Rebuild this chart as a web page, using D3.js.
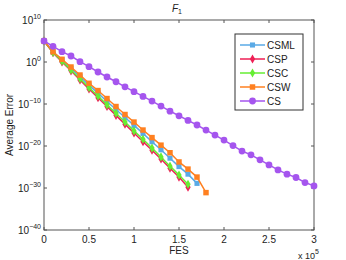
<!DOCTYPE html>
<html>
<head>
<meta charset="UTF-8">
<title>F1 convergence</title>
<script src="https://d3js.org/d3.v7.min.js"></script>
<style>
  body { margin: 0; background: #fff; }
  text { font-family: "Liberation Sans", Arial, sans-serif; }
</style>
</head>
<body>
<svg id="chart"></svg>
<script>
// FES in units of 1e5, error as log10
const fes = d3.range(0, 31).map(i => i / 10);
const csml = [5, 2.4, 0.5, -1.5, -3.5, -5.5, -7.4, -9.4, -11.3, -13.2, -15.1, -17.0, -19.0, -20.9, -22.9, -24.9, -26.7, -28.9];
const csp  = [5, 2.2, 0.0, -2.1, -4.3, -6.4, -8.5, -10.6, -12.7, -14.8, -16.9, -19.0, -21.0, -23.1, -25.3, -27.4, -29.8];
const csc  = [5, 2.3, 0.2, -1.9, -4.0, -6.1, -8.1, -10.2, -12.2, -14.3, -16.4, -18.4, -20.5, -22.6, -24.8, -26.9, -29.1];
const csw  = [5, 2.45, 0.64, -1.19, -3.1, -5.07, -6.8, -8.7, -10.6, -12.5, -14.3, -16.2, -18.0, -19.8, -21.6, -23.8, -25.5, -27.4, -31.1];
const cs   = [5, 3.74, 2.45, 1.43, 0.07, -1.12, -2.38, -3.57, -4.7, -5.9, -7.07, -8.2, -9.3, -10.5, -11.7, -12.8, -13.9, -15.0, -16.2, -17.4, -18.6, -19.9, -21.2, -22.1, -23.3, -24.5, -25.7, -26.7, -27.5, -28.7, -29.5];
const xTicks = [0, 0.5, 1, 1.5, 2, 2.5, 3];
const yTicks = [10, 0, -10, -20, -30, -40];

const series = [
  { name: "CSML", vals: csml, color: "#5aaae6", shape: d3.symbolSquare, size: 26 },
  { name: "CSP",  vals: csp,  color: "#ee1f55", shape: d3.symbolDiamond, size: 24 },
  { name: "CSC",  vals: csc,  color: "#66ee33", shape: d3.symbolDiamond, size: 24 },
  { name: "CSW",  vals: csw,  color: "#ff8020", shape: d3.symbolSquare, size: 30 },
  { name: "CS",   vals: cs,   color: "#a555ee", shape: d3.symbolCircle, size: 36 }
];

const width = 346, height = 260;
const m = { left: 44, right: 32, top: 20, bottom: 30 };
const svg = d3.select("#chart").attr("width", width).attr("height", height);

const x = d3.scaleLinear().domain([0, 3]).range([m.left, width - m.right]);
const y = d3.scaleLinear().domain([-40, 10]).range([height - m.bottom, m.top]);

const axisColor = "#555";

// box
svg.append("rect")
  .attr("x", x(0)).attr("y", y(10))
  .attr("width", x(3) - x(0)).attr("height", y(-40) - y(10))
  .attr("fill", "none").attr("stroke", axisColor).attr("stroke-width", 1);

// ticks on all four sides
const tl = 3;
xTicks.forEach(t => {
  svg.append("line").attr("x1", x(t)).attr("x2", x(t)).attr("y1", y(-40)).attr("y2", y(-40) - tl).attr("stroke", axisColor);
  svg.append("line").attr("x1", x(t)).attr("x2", x(t)).attr("y1", y(10)).attr("y2", y(10) + tl).attr("stroke", axisColor);
  svg.append("text").attr("x", x(t)).attr("y", y(-40) + 13)
    .attr("text-anchor", "middle").attr("font-size", 10).attr("fill", "#222").text(t);
});
yTicks.forEach(t => {
  svg.append("line").attr("x1", x(0)).attr("x2", x(0) + tl).attr("y1", y(t)).attr("y2", y(t)).attr("stroke", axisColor);
  svg.append("line").attr("x1", x(3)).attr("x2", x(3) - tl).attr("y1", y(t)).attr("y2", y(t)).attr("stroke", axisColor);
  const lbl = svg.append("text").attr("x", x(0) - 3).attr("y", y(t) + 4)
    .attr("text-anchor", "end").attr("font-size", 10).attr("fill", "#222");
  lbl.append("tspan").text("10");
  lbl.append("tspan").attr("dy", -5).attr("font-size", 7).text(t < 0 ? "\u2212" + (-t) : t);
});

// axis labels
svg.append("text").attr("x", x(1.5)).attr("y", height - 6)
  .attr("text-anchor", "middle").attr("font-size", 10).attr("fill", "#222").text("FES");
svg.append("text").attr("transform", `translate(13,${(y(10) + y(-40)) / 2}) rotate(-90)`)
  .attr("text-anchor", "middle").attr("font-size", 10).attr("fill", "#222").text("Average Error");
const mult = svg.append("text").attr("x", 298).attr("y", 259).attr("font-size", 9).attr("fill", "#222");
mult.append("tspan").text("x 10");
mult.append("tspan").attr("dy", -5).attr("font-size", 7).text("5");

// title
const title = svg.append("text").attr("x", x(1.5) - 2).attr("y", 12)
  .attr("text-anchor", "middle").attr("font-family", "Liberation Serif, serif")
  .attr("font-style", "italic").attr("font-size", 10).attr("fill", "#222");
title.append("tspan").text("F");
title.append("tspan").attr("dy", 2).attr("font-size", 7).attr("font-style", "normal").text("1");

// series
const line = d3.line().x((d, i) => x(fes[i])).y(d => y(d));
series.forEach(s => {
  const g = svg.append("g");
  g.append("path").datum(s.vals).attr("d", line)
    .attr("fill", "none").attr("stroke", s.color).attr("stroke-width", 1.5);
  g.selectAll("path.mk").data(s.vals).join("path").attr("class", "mk")
    .attr("d", d3.symbol().type(s.shape).size(s.size))
    .attr("transform", (d, i) => `translate(${x(fes[i])},${y(d)})`)
    .attr("fill", s.color);
});

// legend
const lg = svg.append("g");
lg.append("rect").attr("x", 235).attr("y", 34).attr("width", 68).attr("height", 76)
  .attr("fill", "#fff").attr("stroke", "#333").attr("stroke-width", 1);
series.forEach((s, i) => {
  const yy = 45 + i * 14;
  lg.append("line").attr("x1", 240).attr("x2", 265).attr("y1", yy).attr("y2", yy)
    .attr("stroke", s.color).attr("stroke-width", 1.5);
  lg.append("path").attr("d", d3.symbol().type(s.shape).size(s.size))
    .attr("transform", `translate(252.5,${yy})`).attr("fill", s.color);
  lg.append("text").attr("x", 267).attr("y", yy + 4).attr("font-size", 10).attr("fill", "#222").text(s.name);
});
</script>
</body>
</html>
